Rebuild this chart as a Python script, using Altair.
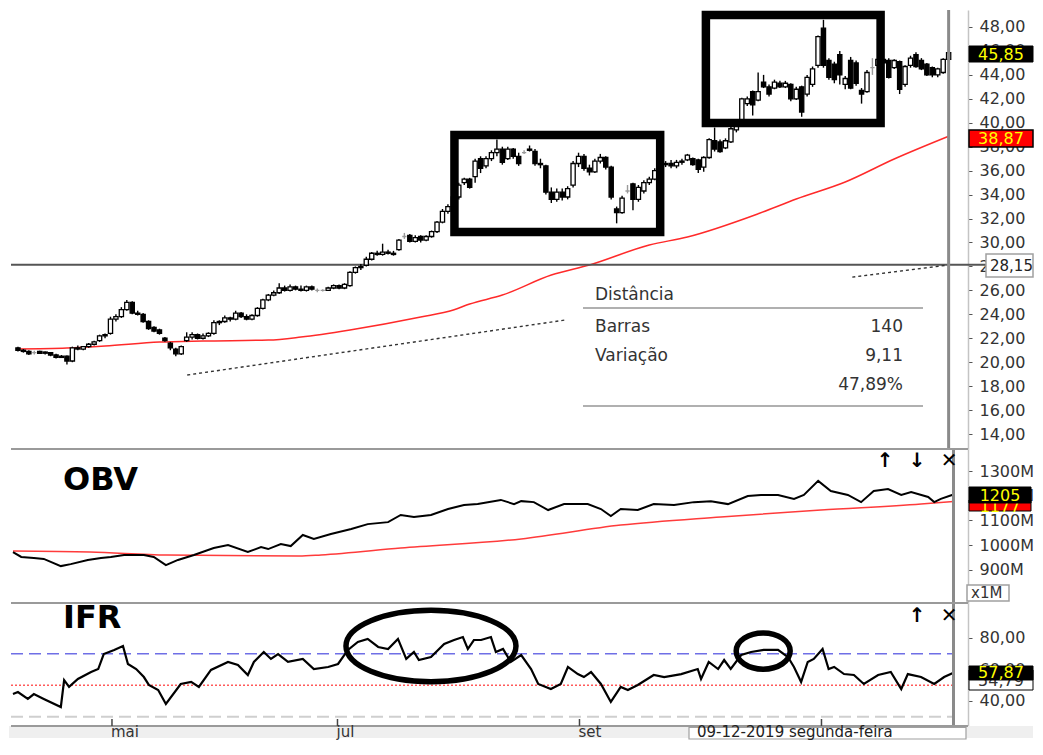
import altair as alt
import pandas as pd

# ---------------- data ----------------
opens = [21.2, 21.0, 20.9, 20.8, 20.9, 20.75, 20.8, 20.6, 20.4, 20.5,
         20.1, 21.2, 21.1, 21.3, 21.5, 21.8, 22.2, 22.4, 23.6, 23.8,
         24.4, 25.0, 24.1, 24.0, 23.4, 22.9, 22.7, 22.0, 21.6, 21.1,
         20.7, 21.8, 22.1, 22.3, 22.0, 22.2, 22.4, 23.3, 23.4, 23.7,
         23.6, 24.1, 23.8, 23.6, 23.9, 24.5, 25.2, 25.6, 25.8, 26.2,
         26.0, 26.3, 26.1, 26.0, 26.3, 26.0, 26.0, 26.0, 26.2, 26.4,
         26.2, 26.4, 27.5, 27.9, 28.1, 28.6, 29.1, 29.0, 29.2, 29.1,
         29.4, 30.5, 30.6, 30.1, 30.5, 30.2, 30.5, 30.9, 31.7, 32.6,
         33.0, 33.8, 35.0, 35.3, 35.5, 37.0, 36.4, 37.0, 37.5, 37.8,
         37.0, 37.8, 37.2, 37.5, 37.8, 37.6, 36.6, 36.4, 34.2, 33.6,
         34.2, 33.8, 34.8, 36.6, 37.2, 36.2, 35.9, 36.8, 37.1, 36.3,
         32.8, 32.5, 34.3, 34.9, 33.6, 34.3, 35.0, 35.3, 36.0, 36.5,
         36.6, 36.4, 36.7, 36.9, 37.0, 36.9, 36.3, 37.1, 38.5, 38.4,
         37.9, 38.4, 39.4, 40.2, 41.6, 42.6, 41.9, 43.4, 43.0, 42.9,
         43.3, 43.0, 43.2, 42.0, 43.0, 42.4, 43.2, 44.8, 47.9, 45.2,
         44.9, 45.7, 43.2, 45.2, 45.0, 42.7, 42.6, 44.6, 44.8, 45.3,
         45.2, 44.6, 45.1, 43.2, 44.8, 45.7, 45.2, 44.9, 44.6, 44.0,
         44.2, 45.3]
highs = [21.3, 21.1, 21.0, 20.95, 20.95, 20.9, 20.85, 20.7, 20.6, 20.55,
         21.3, 21.4, 21.35, 21.6, 21.8, 22.3, 22.4, 23.8, 24.0, 24.6,
         25.2, 25.1, 24.3, 24.1, 23.5, 23.0, 22.8, 22.1, 21.7, 21.2,
         21.4, 22.5, 22.5, 22.4, 22.4, 22.5, 23.5, 23.5, 23.9, 23.8,
         24.3, 24.2, 24.0, 24.0, 24.6, 25.3, 25.7, 26.0, 26.6, 26.4,
         26.5, 26.4, 26.4, 26.4, 26.4, 26.15, 26.1, 26.3, 26.5, 26.5,
         26.6, 27.6, 28.0, 28.2, 28.8, 29.2, 29.3, 29.9, 29.4, 29.3,
         30.3, 30.8, 30.7, 30.6, 30.6, 30.6, 31.0, 31.8, 32.8, 33.2,
         34.0, 35.0, 35.4, 35.4, 37.0, 37.2, 37.2, 37.7, 38.6, 38.0,
         38.0, 37.9, 37.5, 37.7, 38.1, 37.8, 37.0, 36.5, 34.6, 34.5,
         34.5, 34.7, 36.8, 37.5, 37.4, 36.5, 37.0, 37.4, 37.2, 36.4,
         33.0, 33.9, 34.8, 35.0, 34.8, 35.2, 35.5, 36.2, 36.7, 36.8,
         36.9, 36.9, 37.0, 37.4, 37.1, 37.0, 37.2, 38.7, 39.6, 38.6,
         38.7, 39.8, 40.1, 42.1, 42.2, 42.7, 44.2, 44.0, 43.2, 43.6,
         43.5, 43.5, 43.3, 43.0, 43.1, 44.0, 44.7, 47.3, 48.6, 45.4,
         45.1, 46.0, 43.9, 45.5, 45.2, 42.9, 44.4, 45.4, 45.5, 45.6,
         45.4, 45.3, 45.2, 44.8, 45.6, 45.9, 45.4, 45.0, 44.7, 44.6,
         45.4, 46.5]
lows = [20.9, 20.8, 20.6, 20.65, 20.7, 20.65, 20.5, 20.3, 20.35, 19.8,
        20.0, 21.0, 21.0, 21.2, 21.4, 21.7, 22.0, 22.3, 23.4, 23.7,
        24.3, 24.0, 23.9, 23.3, 22.7, 22.5, 22.3, 21.7, 21.0, 20.5,
        20.6, 21.7, 21.9, 21.9, 21.9, 22.1, 22.3, 23.1, 23.3, 23.4,
        23.5, 23.7, 23.5, 23.5, 23.8, 24.4, 25.1, 25.5, 25.7, 25.9,
        25.9, 26.0, 25.9, 25.9, 26.0, 25.85, 25.9, 25.95, 26.1, 26.1,
        26.1, 26.3, 27.4, 27.7, 28.0, 28.5, 28.9, 28.9, 29.0, 28.9,
        29.3, 30.3, 30.0, 30.0, 30.0, 30.1, 30.4, 30.8, 31.6, 32.4,
        32.9, 33.6, 34.8, 34.5, 35.0, 35.8, 36.2, 36.8, 37.2, 36.5,
        36.9, 37.0, 36.4, 37.4, 37.6, 36.4, 36.2, 34.0, 33.3, 33.4,
        33.5, 33.6, 34.6, 36.3, 36.0, 35.6, 35.8, 36.6, 36.1, 33.6,
        31.6, 32.4, 34.1, 32.7, 33.4, 34.1, 34.8, 35.2, 35.9, 36.3,
        36.2, 36.2, 36.5, 36.8, 36.4, 35.8, 35.9, 37.0, 37.6, 37.5,
        37.8, 38.3, 39.2, 40.0, 41.4, 40.6, 41.8, 42.9, 42.2, 42.8,
        42.9, 42.9, 41.8, 41.9, 40.5, 42.2, 43.0, 44.6, 44.6, 43.6,
        43.3, 43.2, 42.8, 42.8, 43.1, 41.6, 42.5, 44.0, 44.6, 44.7,
        43.7, 44.5, 42.4, 43.0, 44.6, 44.6, 44.4, 43.9, 43.8, 43.8,
        44.1, 45.2]
closes = [21.0, 20.9, 20.7, 20.8, 20.75, 20.85, 20.6, 20.4, 20.5, 20.1,
          21.2, 21.1, 21.3, 21.5, 21.7, 22.2, 22.3, 23.6, 23.8, 24.4,
          25.0, 24.1, 24.0, 23.4, 22.8, 22.6, 22.4, 21.8, 21.2, 20.7,
          21.3, 22.1, 22.3, 22.0, 22.2, 22.4, 23.3, 23.4, 23.7, 23.6,
          24.1, 23.8, 23.6, 23.9, 24.5, 25.2, 25.6, 25.8, 26.2, 26.0,
          26.3, 26.1, 26.0, 26.3, 26.1, 26.0, 26.0, 26.2, 26.4, 26.2,
          26.5, 27.5, 27.9, 28.0, 28.6, 29.1, 29.0, 29.2, 29.1, 29.0,
          30.2, 30.5, 30.1, 30.4, 30.2, 30.5, 30.9, 31.7, 32.6, 33.0,
          33.8, 34.8, 35.3, 34.6, 36.8, 36.2, 37.0, 37.5, 37.8, 36.7,
          37.8, 37.2, 36.6, 37.5, 37.7, 36.6, 36.5, 34.2, 33.6, 34.2,
          33.8, 34.5, 36.6, 37.2, 36.2, 35.9, 36.8, 37.1, 36.3, 33.8,
          32.5, 33.7, 34.3, 33.6, 34.6, 35.0, 35.3, 36.0, 36.5, 36.6,
          36.4, 36.7, 36.8, 37.3, 36.5, 36.1, 37.1, 38.6, 37.8, 37.6,
          38.5, 39.5, 39.9, 42.0, 42.0, 41.5, 42.6, 43.0, 42.4, 43.4,
          43.0, 43.3, 42.0, 42.8, 40.9, 43.8, 44.5, 47.2, 44.8, 43.8,
          43.6, 44.0, 43.7, 42.9, 43.3, 42.4, 44.2, 44.6, 45.3, 45.0,
          43.8, 45.2, 42.8, 44.7, 45.4, 44.7, 44.5, 44.0, 44.0, 44.5,
          45.3, 45.85]

ma_idx = [0, 9, 16, 26, 34, 46, 52, 61, 74, 80, 83, 89, 98, 105, 116, 123, 136, 143, 152, 161, 171]
ma_val = [21.1, 21.18, 21.35, 21.68, 21.77, 21.85, 22.1, 22.69, 23.77, 24.36, 24.86, 25.61,
          27.28, 28.12, 29.79, 30.46, 32.4, 33.63, 35.05, 36.97, 38.87]

obv_idx = [0, 1.5, 3.8, 5.6, 8.7, 10.5, 13.6, 16, 17.8, 20.2, 23.8, 25.6, 27.8, 30, 32.9, 36.5,
           39.1, 42.7, 45.1, 46.4, 48.7, 50.5, 52.7, 54.7, 57.8, 61.5, 64.5, 68.2, 70.5, 72.9,
           76, 79.1, 82, 84.5, 88.7, 91.1, 92.4, 94.7, 97.3, 100.2, 104.5, 106.9, 108.7, 110.5,
           113.6, 116.5, 120.2, 123.8, 126.9, 130, 133.6, 136, 139.1, 142, 143.8, 146.4, 148.7,
           151.8, 154.2, 156.5, 159.1, 161.5, 163.3, 166.4, 167.5, 168.7, 171]
obv_val = [972, 952, 948, 944, 915, 923, 940, 948, 952, 960, 960, 952, 919, 940, 960, 988,
           1000, 972, 992, 984, 1004, 996, 1041, 1025, 1045, 1065, 1085, 1093, 1122, 1114,
           1122, 1146, 1162, 1166, 1183, 1166, 1178, 1174, 1142, 1166, 1166, 1146, 1118, 1146,
           1142, 1166, 1162, 1174, 1178, 1166, 1199, 1203, 1203, 1187, 1203, 1260, 1219,
           1203, 1174, 1219, 1227, 1203, 1215, 1195, 1174, 1187, 1205]
obv_ma_idx = [0, 14, 28, 52, 56, 70.5, 92.4, 110.5, 128.7, 146.9, 165.1, 171]
obv_ma_val = [976, 972, 960, 956, 960, 988, 1025, 1081, 1114, 1142, 1166, 1177]

ifr_idx = [0, 0.9, 2.7, 3.8, 5.6, 8.7, 9.3, 10.2, 11.8, 14.2, 15.5, 16.5, 18.4, 20.0, 20.9,
           22.4, 23.8, 24.7, 26.4, 27.8, 30.5, 32.4, 33.8, 36.0, 39.1, 40.9, 42.7, 43.8, 45.6,
           46.9, 48.2, 50.0, 52.7, 54.7, 57.3, 59.1, 60.9, 62.7, 64.5, 66.4, 68.2, 70.0, 71.5,
           72.9, 73.8, 76.0, 78.4, 80.2, 81.8, 82.7, 83.8, 85.1, 86.9, 87.8, 89.1, 90.5, 92.4,
           94.2, 95.5, 97.8, 99.6, 100.9, 102.7, 103.8, 105.1, 106.9, 108.7, 110.5, 111.8,
           113.6, 116.5, 118.4, 121.5, 124.5, 125.1, 126.5, 128.2, 129.3, 130.5, 132.4, 134.2,
           136.5, 139.1, 140.9, 142.0, 143.3, 144.5, 145.6, 147.2, 148.3, 149.3, 151.1, 152.9,
           154.7, 157.3, 159.6, 161.5, 162.7, 165.1, 167.5, 169.3, 171]
ifr_val = [44.4, 45.7, 41.3, 44.4, 41.3, 36.2, 53.3, 49.0, 54.0, 58.4, 60.3, 69.8, 72.4, 74.9,
           63.5, 60.3, 55.2, 50.2, 47.0, 38.1, 50.8, 52.1, 48.9, 59.7, 64.8, 62.9, 56.5, 64.8,
           71.1, 66.7, 69.8, 64.8, 66.7, 60.3, 61.6, 63.5, 72.4, 77.5, 79.4, 74.3, 73.0, 79.4,
           66.7, 71.1, 66.0, 67.9, 76.2, 78.7, 80.6, 73.0, 78.7, 78.7, 80.6, 71.1, 73.0, 64.8,
           69.2, 60.3, 50.8, 47.6, 50.8, 61.6, 57.1, 55.2, 58.4, 50.8, 39.4, 48.9, 47.0, 50.2,
           56.5, 55.2, 57.1, 60.3, 54.0, 64.8, 60.3, 66.0, 60.3, 69.2, 71.1, 72.4, 72.4, 67.9,
           61.6, 52.1, 64.8, 66.7, 73.0, 60.3, 61.6, 57.1, 56.5, 50.8, 56.5, 58.4, 47.6, 57.1,
           55.2, 50.8, 55.2, 57.87]

month_idx = [18, 59, 103, 147]
month_lbl = ["mai", "jul", "set", "nov"]

trend_idx = [31.1, 100.5, 153.3, 171]
trend_val = [18.93, 23.52, 27.11, 28.12]
trend_seg = ["a", "a", "b", "b"]

box_i1 = [80.2, 126.4]
box_i2 = [118.0, 158.5]
box_p1 = [30.87, 39.98]
box_p2 = [38.98, 49.0]

ell_idx = [76, 136.4]
ell_val = [74.9, 71.7]

last_idx = [171]
hline_val = [28.15]
ifr_levels = [70, 50, 30]

# ---------------- layout ----------------
W = 957
H1, H2, H3 = 439, 154, 123
XDOM = [-0.36, 173.64]
FONT = "DejaVu Sans"
AX_FS = 16

n = len(closes)
candles = pd.DataFrame({"i": list(range(n)), "o": opens, "h": highs, "l": lows, "c": closes})
candles["kind"] = ["up" if c > o else ("down" if c < o else "flat") for o, c in zip(opens, closes)]

ONE = pd.DataFrame({"k": [0]})


def xenc(field="i"):
    return alt.X(f"{field}:Q", scale=alt.Scale(domain=XDOM, nice=False, zero=False), axis=None)


def right_axis(values, expr):
    return alt.Axis(orient="right", values=values, labelExpr=expr, title=None, grid=False,
                    domainColor="#c4c4c4", domainWidth=1.5, tickColor="#555", tickSize=4,
                    labelFont=FONT, labelFontSize=AX_FS, labelColor="#333", labelPadding=7,
                    labelOverlap=False, labelFlush=False)


comma = "replace(format(datum.value, '.2f'), '.', ',')"
scP = alt.Scale(domain=[12.75, 49.42], nice=False, zero=False)
axP = right_axis(list(range(14, 49, 2)), comma)
scO = alt.Scale(domain=[765.6, 1389.1], nice=False, zero=False)
axO = right_axis([900, 1000, 1100, 1200, 1300], "datum.value + 'M'")
scI = alt.Scale(domain=[24.13, 102.2], nice=False, zero=False)
axI = right_axis([40, 60, 80], comma)


def yP(f):
    return alt.Y(f"{f}:Q", scale=scP, axis=axP)


def yO(f):
    return alt.Y(f"{f}:Q", scale=scO, axis=axO)


def yI(f):
    return alt.Y(f"{f}:Q", scale=scI, axis=axI)


def box(x1, x2, y1, y2, fill, stroke="#000", sw=1.0):
    return alt.Chart(ONE).mark_rect(fill=fill, stroke=stroke, strokeWidth=sw).encode(
        x=alt.value(x1), x2=alt.value(x2), y=alt.value(y1), y2=alt.value(y2))


def label(text, x, y, size=14, color="#333", align="left", weight="normal", baseline="middle"):
    return alt.Chart(ONE).mark_text(text=text, font=FONT, fontSize=size, color=color, align=align,
                                    fontWeight=weight, baseline=baseline).encode(
        x=alt.value(x), y=alt.value(y))


def hrule(y, x1, x2, color, sw):
    return alt.Chart(ONE).mark_rule(color=color, strokeWidth=sw).encode(
        x=alt.value(x1), x2=alt.value(x2), y=alt.value(y))


def crosshair(h):
    return alt.Chart(pd.DataFrame({"i": last_idx})).mark_rule(color="#8a8a8a", strokeWidth=3).encode(
        x=xenc(), y=alt.value(0), y2=alt.value(h))


# ---------------- price panel ----------------
ma_df = pd.DataFrame({"i": ma_idx, "v": ma_val})
ma_line = alt.Chart(ma_df).mark_line(color="#ff2a2a", strokeWidth=1.5, interpolate="monotone").encode(
    x=xenc(), y=yP("v"))

hline = alt.Chart(pd.DataFrame({"v": hline_val})).mark_rule(color="#555", strokeWidth=2).encode(
    y=yP("v"), x=alt.value(0), x2=alt.value(975))

trend = alt.Chart(pd.DataFrame({"i": trend_idx, "v": trend_val, "s": trend_seg})).mark_line(
    color="#333", strokeWidth=1.4, strokeDash=[3, 3]).encode(x=xenc(), y=yP("v"), detail="s:N")

kinds = ["up", "down", "flat"]
wicks = alt.Chart(candles).mark_rule(strokeWidth=1.4).encode(
    x=xenc(), y=yP("l"), y2="h:Q",
    color=alt.Color("kind:N", scale=alt.Scale(domain=kinds, range=["#000", "#000", "#9a9a9a"]), legend=None))
bodies = alt.Chart(candles).mark_bar(size=4.2, strokeWidth=1.3).encode(
    x=xenc(), y=yP("o"), y2="c:Q",
    fill=alt.Fill("kind:N", scale=alt.Scale(domain=kinds, range=["#fff", "#000", "#9a9a9a"]), legend=None),
    stroke=alt.Stroke("kind:N", scale=alt.Scale(domain=kinds, range=["#000", "#000", "#9a9a9a"]), legend=None))

boxes = alt.Chart(pd.DataFrame({"i": box_i1, "i2": box_i2, "v": box_p1, "v2": box_p2})).mark_rect(
    fill="transparent", stroke="#000", strokeWidth=8.5).encode(x=xenc(), x2="i2:Q", y=yP("v"), y2="v2:Q")

price = alt.layer(
    ma_line, hline, trend, wicks, bodies, boxes, crosshair(H1),
    # Distância table
    label("Distância", 584, 285, size=17),
    hrule(298, 572, 912, "#b0b0b0", 2),
    label("Barras", 584, 317, size=17),
    label("140", 892, 317, size=17, align="right"),
    label("Variação", 584, 346, size=17),
    label("9,11", 892, 346, size=17, align="right"),
    label("47,89%", 892, 375, size=17, align="right"),
    hrule(396, 572, 912, "#b0b0b0", 2),
    # value tags on the axis
    box(958, 1022, 36, 52, "#000", "#000"),
    label("45,85", 990, 44.5, size=AX_FS, color="#ffff00", align="center"),
    box(958, 1022, 120, 137, "#ff0000", "#000", 1.5),
    label("38,87", 990, 129, size=AX_FS, color="#ffff00", align="center"),
    box(975, 1022, 244, 267, "#fff", "#a0a0a0", 1.5),
    label("28,15", 979, 256, size=15, color="#222"),
).properties(width=W, height=H1)

# ---------------- OBV panel ----------------
obv_line = alt.Chart(pd.DataFrame({"i": obv_idx, "v": obv_val})).mark_line(
    color="#000", strokeWidth=2).encode(x=xenc(), y=yO("v"))
obv_ma = alt.Chart(pd.DataFrame({"i": obv_ma_idx, "v": obv_ma_val})).mark_line(
    color="#ff3b3b", strokeWidth=1.5, interpolate="monotone").encode(x=xenc(), y=yO("v"))

obv = alt.layer(
    obv_ma, obv_line, crosshair(H2),
    hrule(0, 0, W, "#9a9a9a", 2),
    label("OBV", 52, 41, size=32, color="#000", weight="bold", baseline="alphabetic"),
    label("↑", 874, 12, size=20, color="#000", align="center", weight="bold"),
    label("↓", 906, 12, size=20, color="#000", align="center", weight="bold"),
    label("✕", 938, 12, size=20, color="#000", align="center", weight="bold"),
    box(958, 1020, 51, 62, "#ff0000", "#000", 1),
    label("1177", 989, 58, size=AX_FS, color="#ffff00", align="center"),
    box(958, 1020, 38, 54, "#000", "#000"),
    label("1205", 989, 46.5, size=AX_FS, color="#ffff00", align="center"),
    box(956, 998, 136, 152, "#fff", "#a0a0a0", 1.5),
    label("x1M", 960, 144, size=15, color="#333"),
).properties(width=W, height=H2)

# ---------------- IFR panel ----------------
ifr_line = alt.Chart(pd.DataFrame({"i": ifr_idx, "v": ifr_val})).mark_line(
    color="#000", strokeWidth=2.2).encode(x=xenc(), y=yI("v"))

lvl_df = pd.DataFrame({"v": ifr_levels, "k": ["hi", "mid", "lo"]})
lvl_hi = alt.Chart(lvl_df[lvl_df.k == "hi"]).mark_rule(color="#6f6fe6", strokeWidth=1.6, strokeDash=[12, 6]).encode(
    y=yI("v"), x=alt.value(0), x2=alt.value(942))
lvl_mid = alt.Chart(lvl_df[lvl_df.k == "mid"]).mark_rule(color="#ff5a5a", strokeWidth=1.6, strokeDash=[2, 2]).encode(
    y=yI("v"), x=alt.value(0), x2=alt.value(942))
lvl_lo = alt.Chart(lvl_df[lvl_df.k == "lo"]).mark_rule(color="#cfcfcf", strokeWidth=2, strokeDash=[12, 6]).encode(
    y=yI("v"), x=alt.value(0), x2=alt.value(942))

K = 0.5523


def ellipse_path(r):
    return (f"M -1 0 C -1 {-K*r:.4f} {-K:.4f} {-r:.4f} 0 {-r:.4f} "
            f"C {K:.4f} {-r:.4f} 1 {-K*r:.4f} 1 0 "
            f"C 1 {K*r:.4f} {K:.4f} {r:.4f} 0 {r:.4f} "
            f"C {-K:.4f} {r:.4f} -1 {K*r:.4f} -1 0 Z")


ell1 = alt.Chart(pd.DataFrame({"i": ell_idx[:1], "v": ell_val[:1]})).mark_point(
    shape=ellipse_path(0.42), size=170 * 170, filled=False, stroke="#000", strokeWidth=5.5, opacity=1).encode(
    x=xenc(), y=yI("v"))
ell2 = alt.Chart(pd.DataFrame({"i": ell_idx[1:], "v": ell_val[1:]})).mark_point(
    shape=ellipse_path(0.67), size=54 * 54, filled=False, stroke="#000", strokeWidth=5.5, opacity=1).encode(
    x=xenc(), y=yI("v"))

months = pd.DataFrame({"i": month_idx, "lbl": month_lbl})
strip = box(-2, 1022, H3, 135, "#efefef", "#efefef", 0)
mticks = alt.Chart(months).mark_rule(color="#444", strokeWidth=1.5).encode(
    x=xenc(), y=alt.value(H3 - 7), y2=alt.value(H3))
mlabels = alt.Chart(months).mark_text(font=FONT, fontSize=15, color="#333", align="left",
                                      baseline="alphabetic", dx=-1).encode(
    x=xenc(), y=alt.value(134), text="lbl:N")

ifr = alt.layer(
    strip, lvl_lo, lvl_mid, lvl_hi, ifr_line, ell1, ell2, crosshair(H3),
    hrule(0, 0, W, "#9a9a9a", 2),
    hrule(H3, 0, W, "#9a9a9a", 2),
    mticks, mlabels,
    label("IFR", 52, 25, size=32, color="#000", weight="bold", baseline="alphabetic"),
    label("↑", 906, 13, size=20, color="#000", align="center", weight="bold"),
    label("✕", 938, 13, size=20, color="#000", align="center", weight="bold"),
    box(958, 1022, 67, 87, "#fff", "#000", 1),
    label("54,79", 990, 78, size=AX_FS, color="#333", align="center"),
    box(958, 1022, 63, 77, "#000", "#000"),
    label("57,87", 990, 70, size=AX_FS, color="#ffff00", align="center"),
    box(678, 955, 124.5, 136, "#fff", "#a0a0a0", 1.2),
    label("09-12-2019 segunda-feira", 686, 134, size=15, color="#222", baseline="alphabetic"),
).properties(width=W, height=H3)

chart = alt.vconcat(price, obv, ifr, spacing=0, bounds="flush").properties(
    padding={"left": 0, "top": 0, "right": 0, "bottom": 0}
).configure_view(strokeWidth=0)

chart.save("out.html", embed_options={"renderer": "svg", "actions": False})
